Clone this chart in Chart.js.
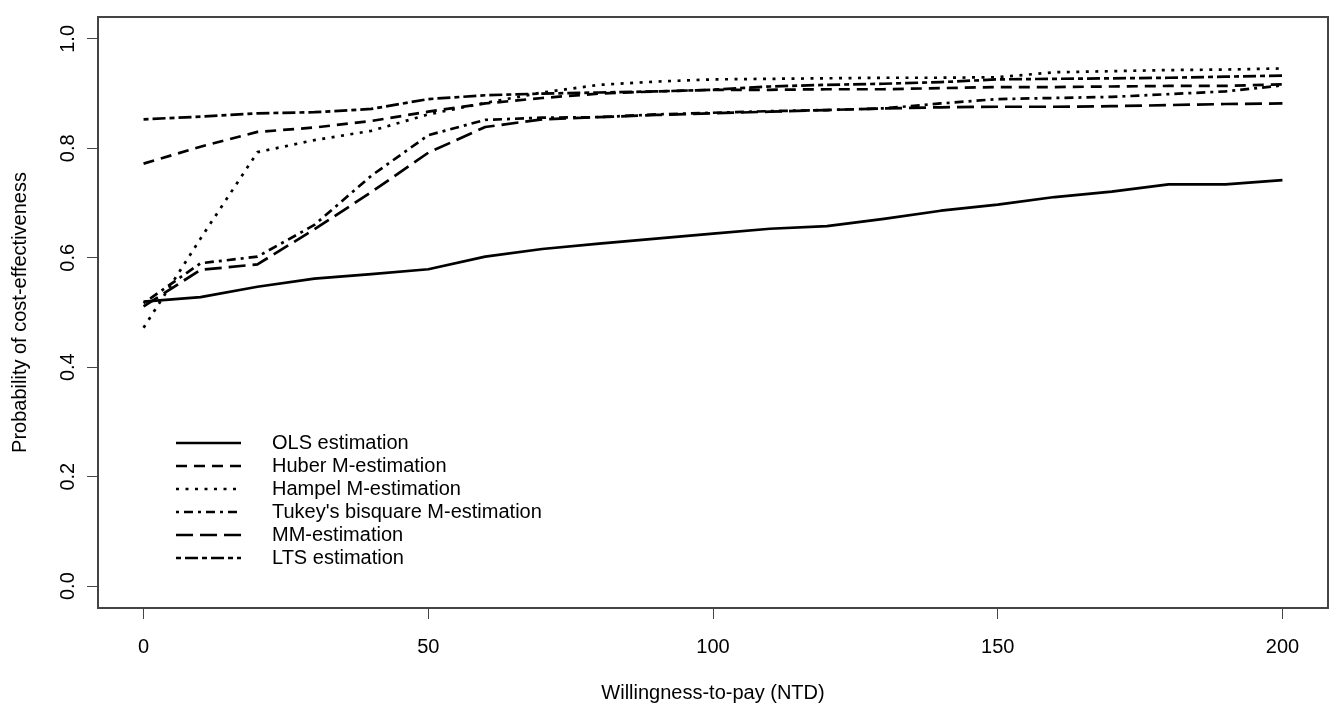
<!DOCTYPE html>
<html>
<head>
<meta charset="utf-8">
<script src="https://cdn.jsdelivr.net/npm/chart.js@4.4.0/dist/chart.umd.min.js"></script>
<style>
  html, body { margin: 0; padding: 0; background: #fff; }
  #wrap { width: 1330px; height: 703px; }
</style>
</head>
<body>
<div id="wrap"><canvas id="chart"></canvas></div>
<script>
// willingness-to-pay grid (NTD)
const wtp = [0, 10, 20, 30, 40, 50, 60, 70, 80, 90, 100, 110, 120, 130, 140, 150, 160, 170, 180, 190, 200];

// probability of cost-effectiveness
const ols    = [0.520, 0.528, 0.547, 0.562, 0.570, 0.579, 0.602, 0.616, 0.626, 0.635, 0.644, 0.653, 0.658, 0.671, 0.686, 0.697, 0.711, 0.721, 0.734, 0.734, 0.742];
const huber  = [0.772, 0.803, 0.830, 0.838, 0.850, 0.867, 0.882, 0.892, 0.900, 0.904, 0.907, 0.907, 0.908, 0.908, 0.910, 0.912, 0.912, 0.913, 0.914, 0.914, 0.917];
const hampel = [0.472, 0.635, 0.793, 0.815, 0.832, 0.862, 0.883, 0.902, 0.916, 0.922, 0.926, 0.927, 0.928, 0.929, 0.929, 0.930, 0.939, 0.941, 0.943, 0.944, 0.946];
const tukey  = [0.517, 0.590, 0.602, 0.660, 0.750, 0.824, 0.852, 0.856, 0.857, 0.862, 0.865, 0.868, 0.870, 0.873, 0.882, 0.890, 0.892, 0.894, 0.899, 0.904, 0.915];
const mm     = [0.511, 0.578, 0.588, 0.652, 0.720, 0.792, 0.839, 0.853, 0.857, 0.861, 0.864, 0.867, 0.870, 0.873, 0.875, 0.876, 0.876, 0.877, 0.879, 0.881, 0.882];
const lts    = [0.853, 0.858, 0.864, 0.866, 0.872, 0.890, 0.897, 0.900, 0.902, 0.904, 0.907, 0.913, 0.916, 0.918, 0.921, 0.926, 0.927, 0.928, 0.929, 0.931, 0.933];

const seriesNames = ['OLS estimation', 'Huber M-estimation', 'Hampel M-estimation',
  "Tukey's bisquare M-estimation", 'MM-estimation', 'LTS estimation'];

const xTicks = [0, 50, 100, 150, 200];
const yTicks = [0, 0.2, 0.4, 0.6, 0.8, 1.0];

const FONT = '"Liberation Sans", Arial, sans-serif';
const AXIS_GREY = '#444';

// R-style line types
const dashes = [
  [],               // solid
  [11, 7],          // dashed
  [3, 6.5],         // dotted
  [3, 5, 9, 5],     // dotdash
  [17, 7],          // longdash
  [5, 4, 13, 4]     // twodash
];

function toPoints(vals) {
  return vals.map((v, i) => ({ x: wtp[i], y: v }));
}

const allSeries = [ols, huber, hampel, tukey, mm, lts];

const datasets = allSeries.map((vals, i) => ({
  label: seriesNames[i],
  data: toPoints(vals),
  borderColor: '#000',
  borderWidth: 2.7,
  borderDash: dashes[i],
  borderCapStyle: 'butt',
  borderJoinStyle: 'round',
  pointRadius: 0,
  tension: 0,
  fill: false
}));

// box around the plotting region, like R's box()
const frame = {
  id: 'frame',
  afterDraw(chart) {
    const a = chart.chartArea;
    const ctx = chart.ctx;
    ctx.save();
    ctx.strokeStyle = AXIS_GREY;
    ctx.lineWidth = 2;
    ctx.strokeRect(a.left, a.top, a.right - a.left, a.bottom - a.top);
    ctx.restore();
  }
};

// legend drawn inside the plot, lower left
const insetLegend = {
  id: 'insetLegend',
  afterDatasetsDraw(chart) {
    const ctx = chart.ctx;
    ctx.save();
    ctx.font = '20px ' + FONT;
    ctx.textBaseline = 'middle';
    ctx.fillStyle = '#000';
    chart.data.datasets.forEach((ds, i) => {
      const y = 443 + i * 23;
      ctx.beginPath();
      ctx.setLineDash(ds.borderDash);
      ctx.lineWidth = ds.borderWidth;
      ctx.strokeStyle = ds.borderColor;
      ctx.lineCap = 'butt';
      ctx.moveTo(176, y);
      ctx.lineTo(241, y);
      ctx.stroke();
      ctx.setLineDash([]);
      ctx.fillText(ds.label, 272, y);
    });
    ctx.restore();
  }
};

new Chart(document.getElementById('chart'), {
  type: 'line',
  data: { datasets },
  options: {
    responsive: true,
    maintainAspectRatio: false,
    animation: false,
    layout: { padding: { top: 11, right: 2, left: 0, bottom: 0 } },
    plugins: {
      legend: { display: false },
      tooltip: { enabled: false }
    },
    scales: {
      x: {
        type: 'linear',
        min: -8,
        max: 208,
        afterBuildTicks: s => { s.ticks = xTicks.map(v => ({ value: v })); },
        afterFit: s => { s.height = 95; },
        border: { display: false },
        grid: { drawOnChartArea: false, drawTicks: true, tickLength: 11, color: AXIS_GREY, lineWidth: 1 },
        ticks: {
          color: '#000',
          font: { family: FONT, size: 20 },
          padding: 16,
          maxRotation: 0,
          callback: v => String(v)
        },
        title: {
          display: true,
          text: 'Willingness-to-pay (NTD)',
          color: '#000',
          font: { family: FONT, size: 20, lineHeight: 1 },
          padding: { top: 0, bottom: 0 }
        }
      },
      y: {
        type: 'linear',
        min: -0.04,
        max: 1.04,
        afterBuildTicks: s => { s.ticks = yTicks.map(v => ({ value: v })); },
        afterFit: s => { s.width = 98; },
        border: { display: false },
        grid: { drawOnChartArea: false, drawTicks: true, tickLength: 11, color: AXIS_GREY, lineWidth: 1 },
        ticks: {
          color: '#000',
          font: { family: FONT, size: 20 },
          padding: 5,
          minRotation: 90,
          maxRotation: 90,
          crossAlign: 'center',
          callback: v => Number(v).toFixed(1)
        },
        title: {
          display: true,
          text: 'Probability of cost-effectiveness',
          color: '#000',
          font: { family: FONT, size: 20, lineHeight: 1 },
          padding: { top: 10, bottom: 0 }
        }
      }
    }
  },
  plugins: [frame, insetLegend]
});
</script>
</body>
</html>
